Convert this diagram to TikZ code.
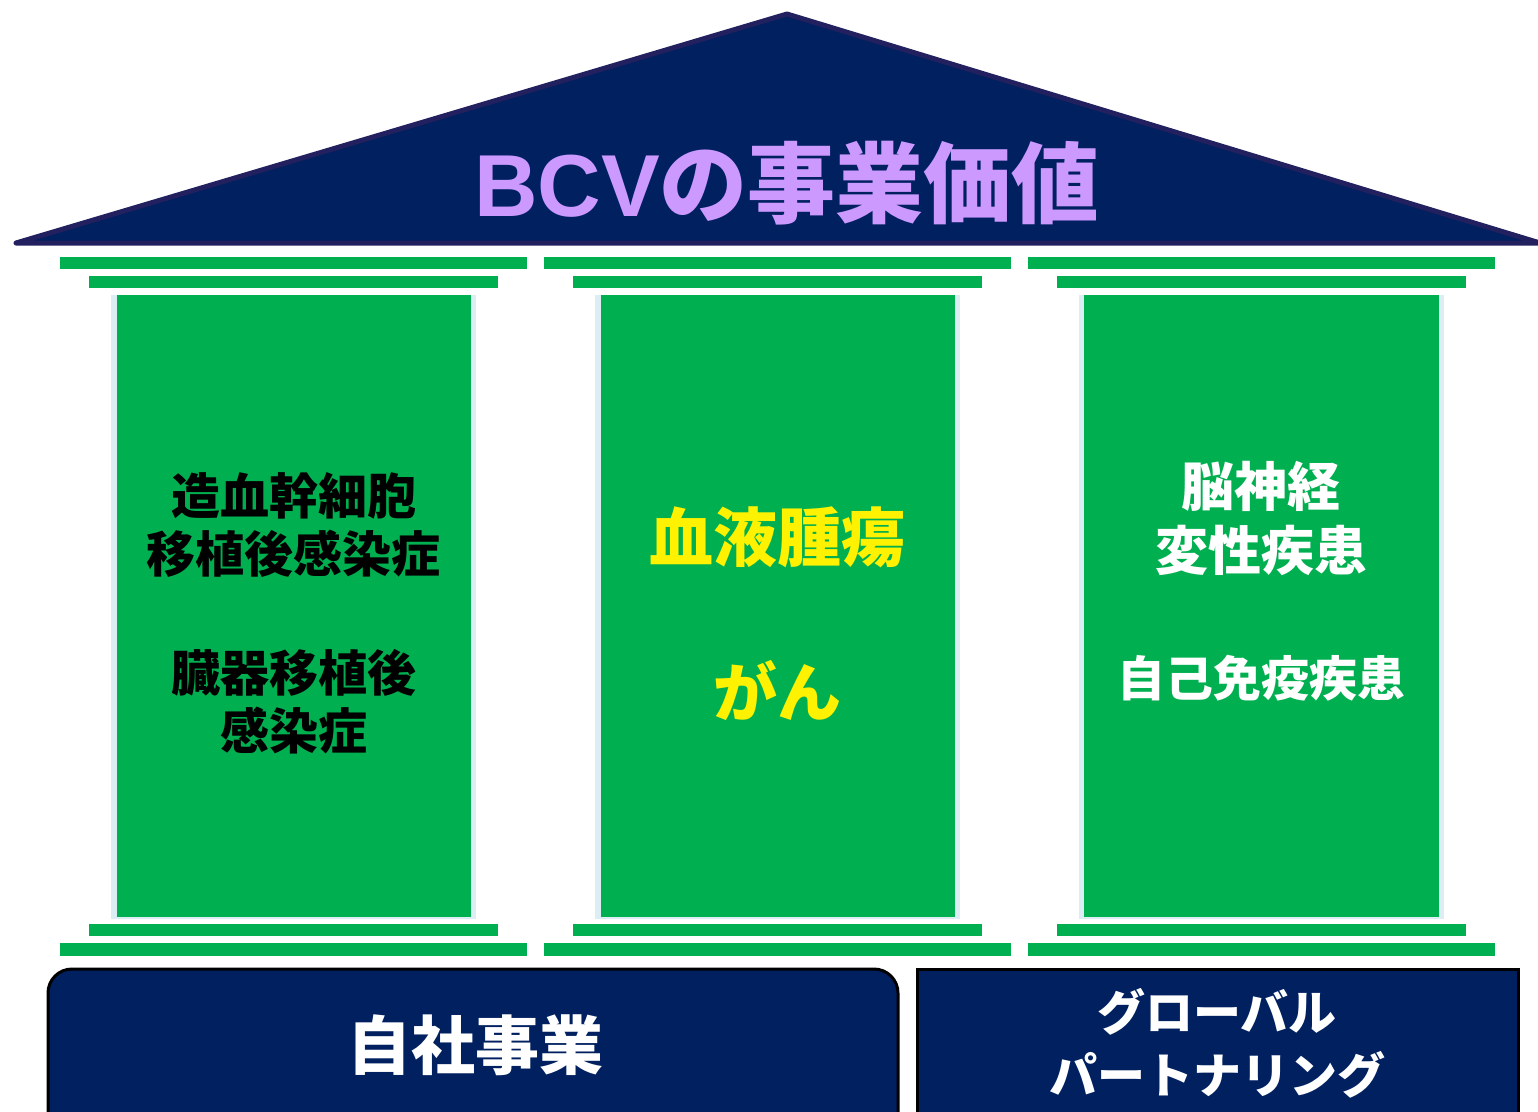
\documentclass[tikz,border=0pt]{standalone}
\usepackage{fontspec}
\newfontfamily\jp{Noto Sans CJK JP}
\newfontfamily\lat{Liberation Sans}
\definecolor{navy}{HTML}{002060}
\definecolor{roofline}{HTML}{22205E}
\definecolor{pgreen}{HTML}{00B050}
\definecolor{coledge}{HTML}{DCEEF3}
\definecolor{roofText}{HTML}{CC99FF}
\begin{document}
\begin{tikzpicture}[x=1pt,y=-1pt,
  capbar/.style={fill=pgreen},
  lbl/.style 2 args={align=center,inner sep=0pt,font=\jp\bfseries\fontsize{#1}{#2}\selectfont},
  basebox/.style={fill=navy,draw=black,line width=3pt}]
\useasboundingbox (0,0) rectangle (1538,1111);
\clip (0,0) rectangle (1538,1111);
% roof
\filldraw[fill=navy,draw=roofline,line width=5pt,line join=round] (16,243) -- (787,14) -- (1540,243) -- cycle;
\node[lbl={88}{100},text=roofText] (title) at (787,183) {{\lat\bfseries BCV}の事業価値};
% pillars
\foreach \cx/\nm in {293.5/L,777.5/M,1261/R}{
  \fill[capbar] (\cx-233.5,257) rectangle (\cx+233.5,269);
  \fill[capbar] (\cx-204.5,276) rectangle (\cx+204.5,288);
  \fill[coledge] (\cx-182.5,295) rectangle (\cx+182.5,919);
  \fill[pgreen] (\cx-177,295) rectangle (\cx+177.5,917);
  \fill[capbar] (\cx-204.5,924) rectangle (\cx+204.5,936);
  \fill[capbar] (\cx-233.5,943) rectangle (\cx+233.5,956);
}
\node[lbl={49}{58},text=black] (leftA) at (293.5,525) {造血幹細胞\\移植後感染症};
\node[lbl={49}{58},text=black] (leftB) at (293.5,702) {臓器移植後\\感染症};
\node[lbl={64}{76},text=yellow] (midA) at (777.5,537) {血液腫瘍};
\node[lbl={64}{76},text=yellow] (midB) at (777.5,690) {がん};
\node[lbl={53}{64},text=white] (rightA) at (1261,518) {脳神経\\変性疾患};
\node[lbl={48}{58},text=white] (rightB) at (1261,678) {自己免疫疾患};
% base boxes
\draw[basebox,rounded corners=24pt] (48,1130) -- (48,969) -- (898,969) -- (898,1130);
\draw[basebox] (917,1130) -- (917,969) -- (1518,969) -- (1518,1130);
\node[lbl={64}{76},text=white] (own) at (475,1045) {自社事業};
\node[lbl={48}{63},text=white] (global) at (1217,1043) {グローバル\\パートナリング};
\end{tikzpicture}
\end{document}
